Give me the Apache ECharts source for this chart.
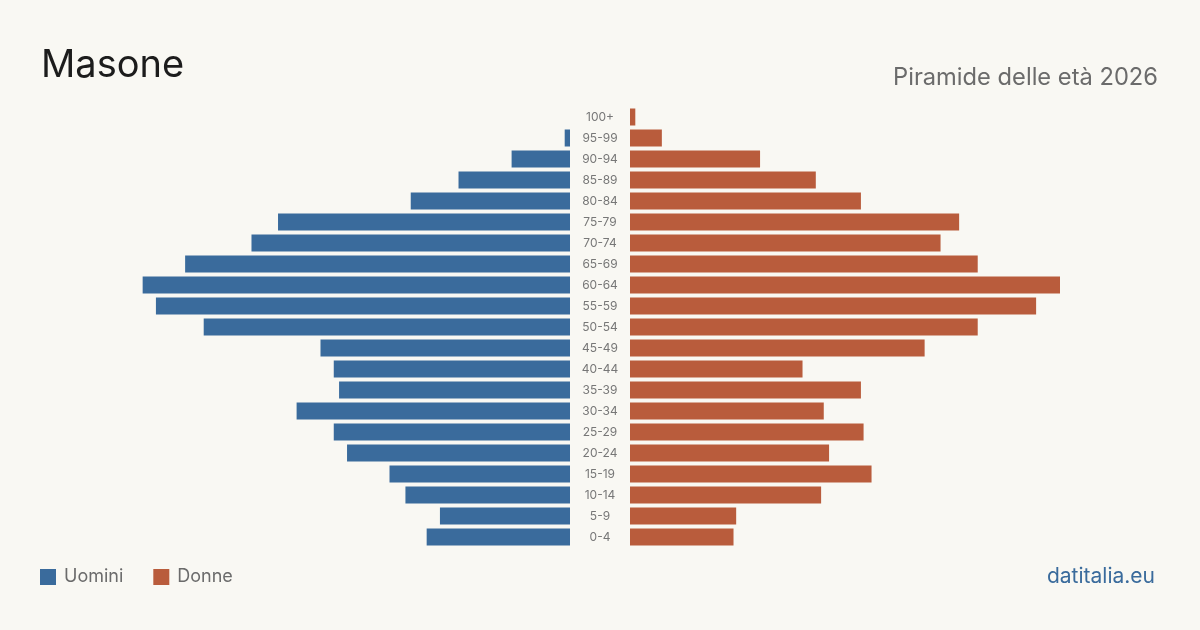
<!DOCTYPE html>
<html>
<head>
<meta charset="utf-8">
<script src="https://cdn.jsdelivr.net/npm/echarts@6/dist/echarts.min.js"></script>
<style>
  html, body { margin: 0; padding: 0; background: #f9f8f3; }
  #chart { width: 1200px; height: 630px; }
</style>
</head>
<body>
<div id="chart"></div>
<script>
// fasce d'età, dal basso verso l'alto
const ages = ['0-4', '5-9', '10-14', '15-19', '20-24', '25-29', '30-34', '35-39', '40-44', '45-49',
  '50-54', '55-59', '60-64', '65-69', '70-74', '75-79', '80-84', '85-89', '90-94', '95-99', '100+'];
const uomini = [54, 49, 62, 68, 84, 89, 103, 87, 89, 94, 138, 156, 161, 145, 120, 110, 60, 42, 22, 2, 0];
const donne = [39, 40, 72, 91, 75, 88, 73, 87, 65, 111, 131, 153, 162, 131, 117, 124, 87, 70, 49, 12, 2];
const maxVal = 162;

const blue = '#3a6b9c';
const red = '#b95c3c';
const font = 'Inter, "Noto Sans", sans-serif';

const chart = echarts.init(document.getElementById('chart'));
chart.setOption({
  backgroundColor: '#f9f8f3',
  animation: false,
  textStyle: { fontFamily: font },
  title: [
    { text: 'Masone', left: 41, top: 47, padding: 0, textStyle: { fontSize: 38, fontWeight: 'normal', color: '#1c1c1c', fontFamily: font } },
    { text: 'Piramide delle età 2026', right: 42, top: 66, padding: 0, textStyle: { fontSize: 23.7, fontWeight: 'normal', color: '#6b6b6b', fontFamily: font } },
    { text: 'datitalia.eu', right: 45, top: 566, padding: 0, textStyle: { fontSize: 21, fontWeight: 'normal', color: blue, fontFamily: font } }
  ],
  legend: {
    left: 40, top: 568, padding: 0,
    icon: 'rect', itemWidth: 16, itemHeight: 16, itemGap: 30,
    textStyle: { fontSize: 18, color: '#6b6b6b', fontFamily: font, padding: [0, 0, 0, 3] },
    data: ['Uomini', 'Donne']
  },
  grid: [
    { left: 140, width: 430, top: 106.5, height: 441 },
    { left: 630, width: 430, top: 106.5, height: 441 }
  ],
  xAxis: [
    { gridIndex: 0, type: 'value', min: 0, max: maxVal, inverse: true, show: false },
    { gridIndex: 1, type: 'value', min: 0, max: maxVal, show: false }
  ],
  yAxis: [
    {
      gridIndex: 0, type: 'category', data: ages, position: 'right',
      axisLine: { show: false }, axisTick: { show: false },
      axisLabel: { margin: 30, align: 'center', fontSize: 12, color: '#777', fontFamily: font }
    },
    {
      gridIndex: 1, type: 'category', data: ages,
      axisLine: { show: false }, axisTick: { show: false }, axisLabel: { show: false }
    }
  ],
  series: [
    { name: 'Uomini', type: 'bar', xAxisIndex: 0, yAxisIndex: 0, data: uomini, barCategoryGap: '19%', itemStyle: { color: blue } },
    { name: 'Donne', type: 'bar', xAxisIndex: 1, yAxisIndex: 1, data: donne, barCategoryGap: '19%', itemStyle: { color: red } }
  ]
});
</script>
</body>
</html>
